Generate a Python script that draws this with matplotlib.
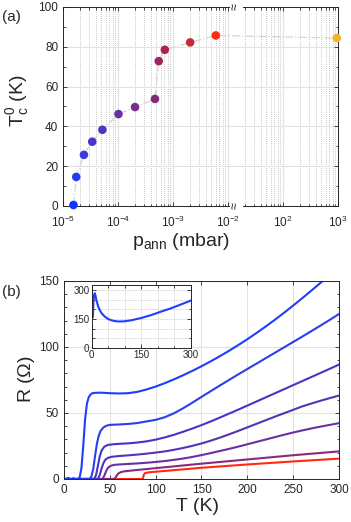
import numpy as np
import matplotlib
matplotlib.use("Agg")
import matplotlib.pyplot as plt
from matplotlib.ticker import FixedLocator, NullFormatter, MultipleLocator

plt.rcParams["font.family"] = ["Liberation Sans", "DejaVu Sans"]
plt.rcParams["mathtext.fontset"] = "custom"
plt.rcParams["mathtext.rm"] = "Liberation Sans"
plt.rcParams["mathtext.it"] = "Liberation Sans:italic"

# --- panel (a): Tc0 vs annealing pressure ---
p_ann = [1.55e-5, 1.74e-5, 2.4e-5, 3.4e-5, 5.2e-5, 1.02e-4, 2.04e-4,
         4.7e-4, 5.5e-4, 7.1e-4, 2.05e-3, 6.0e-3, 950.0]
tc0 = [0.5, 14.6, 25.7, 32.3, 38.3, 46.2, 49.7, 53.8, 72.8, 78.5, 82.2, 85.7, 84.4]
point_colors = ["#1034ff", "#2a3af0", "#3a3ade", "#4636cc", "#5234bc", "#6a2fa2",
                "#772c92", "#862878", "#9e2462", "#ac2252", "#c8263a", "#ff2a10", "#f2b42a"]

# --- panel (b): R(T) curves ---
T1 = [2, 5, 8, 10, 12, 15, 17, 19, 21, 23, 25, 27, 29, 31, 35, 40, 50, 60, 70, 80,
      90, 100, 110, 120, 130, 140, 150, 160, 170, 180, 190, 200, 210, 220, 230, 240,
      250, 260, 270, 280, 290, 300]
R1 = [0, 0.8, -0.5, 0.6, 0, 0, 1, 8, 25, 45, 57, 62, 64, 65, 65.3, 65.4, 65, 64.8,
      65.0, 66.0, 67.8, 70.0, 72.6, 75.5, 78.6, 81.9, 85.4, 89.1, 93.0, 97.1, 101.4,
      105.9, 110.6, 115.5, 120.6, 125.9, 131.4, 137.0, 142.8, 148.7, 154.7, 160.8]
T2 = [0, 28, 30, 32, 34, 36, 38, 40, 43, 46, 50, 60, 70, 80, 90, 100, 110, 120, 130,
      140, 150, 160, 170, 180, 190, 200, 210, 220, 230, 240, 250, 260, 270, 280, 290, 300]
R2 = [0, 0, 2, 8, 18, 27, 33, 36.5, 39, 40.3, 41, 41.3, 41.7, 42.4, 43.6, 44.8, 46.8,
      49.8, 53.6, 57.8, 62.2, 66.5, 70.8, 75.0, 79.2, 83.3, 87.4, 91.5, 95.6, 99.7,
      103.8, 107.9, 112.1, 116.3, 120.6, 125.0]
T3 = [0, 33, 35, 37, 39, 41, 44, 48, 55, 60, 70, 80, 90, 100, 110, 120, 130, 140, 150,
      160, 170, 180, 190, 200, 210, 220, 230, 240, 250, 260, 270, 280, 290, 300]
R3 = [0, 0, 3, 10, 17, 21.5, 24.5, 25.8, 26.4, 26.6, 27.0, 27.6, 28.5, 29.8, 31.5,
      33.5, 35.8, 38.2, 40.8, 43.6, 46.5, 49.5, 52.5, 55.6, 58.7, 61.8, 64.9, 68.0,
      71.1, 74.2, 77.3, 80.4, 83.5, 86.7]
T4 = [0, 37, 39, 41, 43, 45, 48, 52, 60, 70, 80, 90, 100, 110, 120, 130, 140, 150,
      160, 170, 180, 190, 200, 210, 220, 230, 240, 250, 260, 270, 280, 290, 300]
R4 = [0, 0, 3, 8, 12, 14.5, 16, 16.8, 17.4, 17.9, 18.5, 19.2, 20.0, 20.9, 22.1, 23.5,
      25.1, 26.9, 29.0, 31.3, 33.8, 36.4, 39.1, 41.8, 44.5, 47.2, 49.8, 52.4, 55.0,
      57.2, 59.3, 61.3, 63.2]
T5 = [0, 42, 44, 46, 48, 51, 55, 60, 70, 80, 90, 100, 110, 120, 130, 140, 150, 160,
      170, 180, 190, 200, 210, 220, 230, 240, 250, 260, 270, 280, 290, 300]
R5 = [0, 0, 2.5, 6, 8.5, 10, 10.7, 11.0, 11.4, 11.8, 12.3, 12.9, 13.6, 14.5, 15.5,
      16.7, 18.1, 19.6, 21.2, 22.8, 24.5, 26.3, 28.1, 29.9, 31.7, 33.5, 35.2, 36.8,
      38.3, 39.7, 41.0, 42.3]
T6 = [0, 55, 57, 59, 62, 66, 75, 100, 150, 200, 250, 300]
R6 = [0, 0, 2, 4, 5.2, 5.8, 6.5, 8.2, 11.6, 14.8, 18, 20.9]
T7 = [0, 86, 87, 88, 92, 100, 150, 200, 250, 300]
R7 = [0, 0, 3, 4.3, 5, 5.5, 8.5, 11, 13.3, 15.4]
curve_colors = ["#1f3dff", "#2b3ee8", "#4236c8", "#5533b8", "#6a2fa5", "#8a2a78", "#ff2a12"]

# inset: full R(T) of the first sample
T_in = [4, 5, 6, 8, 10, 12, 15, 20, 25, 30, 40, 50, 60, 70, 80, 90, 100, 120, 150,
        180, 210, 240, 270, 300]
R_in = [160, 200, 245, 275, 283, 270, 245, 215, 195, 180, 162, 150, 143, 139, 137,
        137, 138, 143, 155, 170, 188, 205, 225, 245]

spine_c = "#262626"
grid_c = "#e2e2e2"

# broken log axis: gap of 3 decades after 10^-1.85
BRK = -1.85
GAP = 3.0


def fwd(p):
    l = np.log10(np.clip(np.asarray(p, dtype=float), 1e-300, None))
    return np.where(l > BRK, l - GAP, l)


def inv(y):
    y = np.asarray(y, dtype=float)
    return np.where(y > BRK, 10.0 ** (y + GAP), 10.0 ** y)


fig = plt.figure(figsize=(3.51, 5.22), dpi=100)

# ---------------- panel (a)
ax = fig.add_axes([0.1795, 0.6054, 0.7835, 0.3812])
ax.set_xscale("function", functions=(fwd, inv))
ax.set_xlim(1e-5, 1e3)
ax.set_ylim(0, 100)

majors = [1e-5, 1e-4, 1e-3, 1e-2, 1e2, 1e3]
minors = [k * 10.0 ** d for d in (-5, -4, -3) for k in range(2, 10)]
minors += [k * 10.0 ** d for d in (1, 2) for k in range(2, 10)]
ax.xaxis.set_major_locator(FixedLocator(majors))
ax.xaxis.set_minor_locator(FixedLocator(minors))
ax.set_xticklabels(["$10^{-5}$", "$10^{-4}$", "$10^{-3}$", "$10^{-2}$", "$10^{2}$", "$10^{3}$"])
ax.xaxis.set_minor_formatter(NullFormatter())
ax.yaxis.set_major_locator(MultipleLocator(20))
ax.yaxis.set_minor_locator(MultipleLocator(10))

ax.grid(True, which="major", color=grid_c, lw=0.8)
ax.grid(True, which="minor", axis="x", color="#b4b4b4", lw=0.6, ls=(0, (1, 1.5)))
ax.set_axisbelow(True)

ax.plot(p_ann, tc0, color="#d6d6cc", lw=0.9, ls="-.", zorder=2)
ax.scatter(p_ann, tc0, s=38, c=point_colors, edgecolors="none", zorder=3, clip_on=False)

# break marks
for yy in (0, 1):
    ax.text(10 ** BRK, yy, "\u2248", transform=ax.get_xaxis_transform(), rotation=90,
            ha="center", va="center", fontsize=9, color=spine_c,
            bbox=dict(facecolor="white", edgecolor="none", pad=0.2), zorder=5, clip_on=False)

ax.set_ylabel(r"$\mathrm{T_c^0}$ (K)", fontsize=14, color=spine_c, va="center")
ax.yaxis.set_label_coords(-0.164, 0.53)
ax.set_xlabel(r"$\mathrm{p_{ann}}$ (mbar)", fontsize=14, color=spine_c, va="center")
ax.xaxis.set_label_coords(0.43, -0.18)

# ---------------- panel (b)
bx = fig.add_axes([0.1823, 0.0824, 0.7835, 0.3793])
curves = [(T7, R7), (T6, R6), (T5, R5), (T4, R4), (T3, R3), (T2, R2), (T1, R1)]
cols = curve_colors[::-1]
for (t, r), c in zip(curves, cols):
    bx.plot(t, r, color=c, lw=1.5, solid_joinstyle="round")
bx.set_xlim(0, 300)
bx.set_ylim(0, 150)
bx.xaxis.set_major_locator(MultipleLocator(50))
bx.yaxis.set_major_locator(MultipleLocator(50))
bx.yaxis.set_minor_locator(MultipleLocator(10))
bx.grid(True, which="major", color=grid_c, lw=0.8)
bx.set_axisbelow(True)
bx.set_xlabel("T (K)", fontsize=14, color=spine_c, va="center")
bx.xaxis.set_label_coords(0.485, -0.141)
bx.set_ylabel(r"R ($\mathit{\Omega}$)", fontsize=14, color=spine_c, va="center")
bx.yaxis.set_label_coords(-0.135, 0.505)

# inset
ix = fig.add_axes([0.2607, 0.3333, 0.2835, 0.1207])
ix.plot(T_in, R_in, color=curve_colors[0], lw=1.5, solid_joinstyle="round")
ix.set_xlim(0, 300)
ix.set_ylim(0, 325)
ix.xaxis.set_major_locator(FixedLocator([0, 150, 300]))
ix.yaxis.set_major_locator(FixedLocator([0, 150, 300]))
ix.xaxis.set_minor_locator(MultipleLocator(50))
ix.yaxis.set_minor_locator(MultipleLocator(50))
ix.grid(True, which="both", color=grid_c, lw=0.6)
ix.set_axisbelow(True)

for a, fs in ((ax, 8.5), (bx, 8.5), (ix, 7)):
    a.tick_params(which="both", direction="in", top=True, right=True, colors=spine_c,
                  labelsize=fs, width=0.6)
    a.tick_params(which="major", length=3)
    a.tick_params(which="minor", length=1.8)
    for s in a.spines.values():
        s.set_color(spine_c)
        s.set_linewidth(0.7)
ax.tick_params(axis="x", which="major", pad=6.5)
ix.tick_params(which="both", pad=1.5)

fig.text(11 / 351, 1 - 17 / 522, "(a)", fontsize=11, ha="center", va="center", color=spine_c)
fig.text(11 / 351, 1 - 292 / 522, "(b)", fontsize=11, ha="center", va="center", color=spine_c)

fig.savefig("out.png", dpi=100)
